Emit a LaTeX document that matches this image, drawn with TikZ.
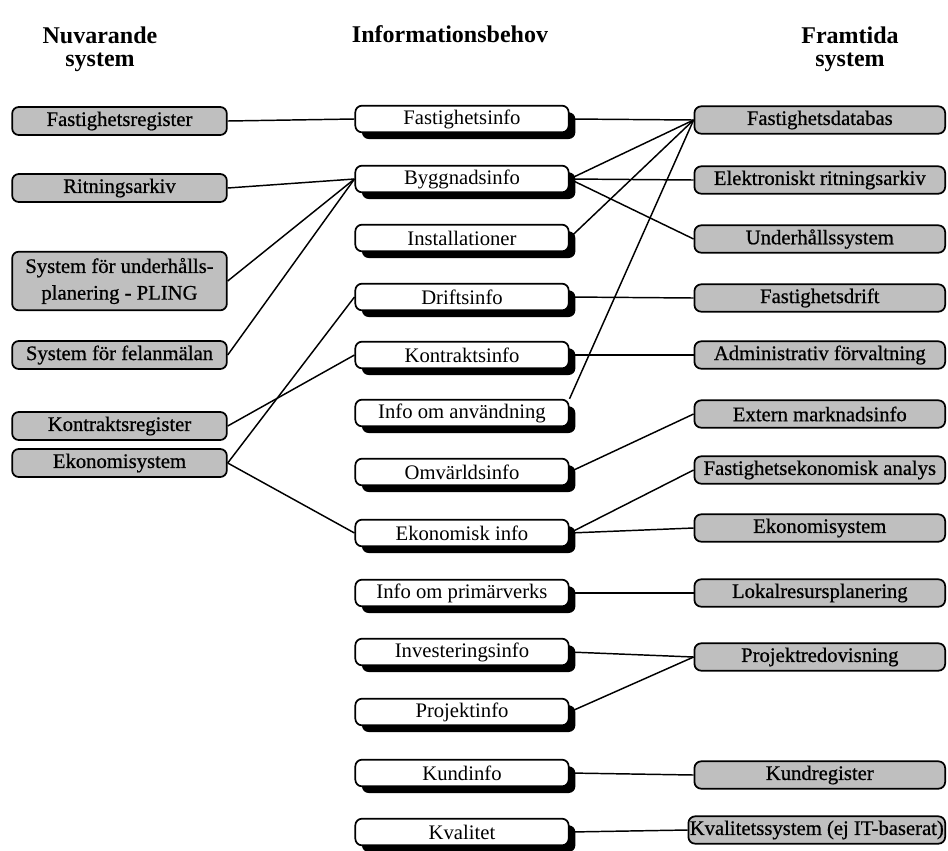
\documentclass[tikz,border=0pt]{standalone}
\usepackage{fontspec}
\setmainfont{Liberation Serif}
\newfontface\grayfont[FakeBold=0.7]{Liberation Serif}
\usetikzlibrary{shadows,backgrounds}

\begin{document}
\begin{tikzpicture}[x=0.75pt,y=-0.75pt,
  heading/.style={font=\fontsize{18}{17.5}\selectfont\bfseries, align=center, inner sep=0pt},
  graybox/.style={draw=black, line width=1.3pt, rounded corners=5pt, fill=black!25,
    font=\fontsize{15.5}{20}\grayfont, align=center, inner xsep=1pt, inner ysep=1.5pt},
  oldsys/.style={graybox, minimum width=161pt, minimum height=21pt},
  newsys/.style={graybox, minimum width=188pt, minimum height=20.5pt, anchor=east},
  infobox/.style={draw=black, line width=1.3pt, rounded corners=5pt, fill=white,
    minimum width=160pt, minimum height=20pt, inner sep=1pt,
    font=\fontsize{15.5}{18}\selectfont,
    drop shadow={shadow xshift=5pt, shadow yshift=-5pt, fill=black, opacity=1}},
  link/.style={draw=black, line width=1.1pt}
]

% column headings
\node[heading] (h1) at (100,49) {Nuvarande\\system};
\node[heading] (h2) at (450,34) {Informationsbehov};
\node[heading] (h3) at (850,49) {Framtida\\system};

% current systems
\node[oldsys] (l1) at (119.5,121) {Fastighetsregister};
\node[oldsys] (l2) at (119.5,188) {Ritningsarkiv};
\node[oldsys, minimum height=44pt] (l3) at (119.5,281) {System för underhålls-\\planering - PLING};
\node[oldsys] (l4) at (119.5,355) {System för felanmälan};
\node[oldsys] (l5) at (119.5,426) {Kontraktsregister};
\node[oldsys] (l6) at (119.5,463) {Ekonomisystem};

% information needs
\node[infobox] (m1)  at (462,119) {Fastighetsinfo};
\node[infobox] (m2)  at (462,179) {Byggnadsinfo};
\node[infobox] (m3)  at (462,238) {Installationer};
\node[infobox] (m4)  at (462,297) {Driftsinfo};
\node[infobox] (m5)  at (462,355) {Kontraktsinfo};
\node[infobox] (m6)  at (462,413) {Info om användning};
\node[infobox] (m7)  at (462,472) {Omvärldsinfo};
\node[infobox] (m8)  at (462,533) {Ekonomisk info};
\node[infobox] (m9)  at (462,593) {Info om primärverks};
\node[infobox] (m10) at (462,652) {Investeringsinfo};
\node[infobox] (m11) at (462,712) {Projektinfo};
\node[infobox] (m12) at (462,773) {Kundinfo};
\node[infobox] (m13) at (462,832) {Kvalitet};

% future systems
\node[newsys] (r1)  at (946,120) {Fastighetsdatabas};
\node[newsys] (r2)  at (946,180) {Elektroniskt ritningsarkiv};
\node[newsys] (r3)  at (946,239) {Underhållssystem};
\node[newsys] (r4)  at (946,298) {Fastighetsdrift};
\node[newsys] (r5)  at (946,355) {Administrativ förvaltning};
\node[newsys] (r6)  at (946,414) {Extern marknadsinfo};
\node[newsys] (r7)  at (946,470) {Fastighetsekonomisk analys};
\node[newsys] (r8)  at (946,528) {Ekonomisystem};
\node[newsys] (r9)  at (946,593) {Lokalresursplanering};
\node[newsys] (r10) at (946,657) {Projektredovisning};
\node[newsys] (r11) at (946,775) {Kundregister};
\node[newsys] (r12) at (946,830) {Kvalitetssystem (ej IT-baserat)};

\begin{scope}[on background layer]
  \fill[white] (0,0) rectangle (948,850);
  % current systems to information needs
  \draw[link] (l1.east) -- (m1.west);
  \draw[link] (l2.east) -- (m2.west);
  \draw[link] (l3.east) -- (m2.west);
  \draw[link] (l4.east) -- (m2.west);
  \draw[link] (l5.east) -- (m5.west);
  \draw[link] (l6.east) -- (m4.west);
  \draw[link] (l6.east) -- (m8.west);
  % information needs to future systems
  \draw[link] (m1.east) -- (r1.west);
  \draw[link] (m2.east) -- (r1.west);
  \draw[link] (m2.east) -- (r2.west);
  \draw[link] (m2.east) -- (r3.west);
  \draw[link] (m3.east) -- (r1.west);
  \draw[link] (m6.north east) -- (r1.west);
  \draw[link] (m4.east) -- (r4.west);
  \draw[link] (m5.east) -- (r5.west);
  \draw[link] (m7.east) -- (r6.west);
  \draw[link] (m8.east) -- (r7.west);
  \draw[link] (m8.east) -- (r8.west);
  \draw[link] (m9.east) -- (r9.west);
  \draw[link] (m10.east) -- (r10.west);
  \draw[link] (m11.east) -- (r10.west);
  \draw[link] (m12.east) -- (r11.west);
  \draw[link] (m13.east) -- (r12.west);
\end{scope}
\end{tikzpicture}
\end{document}
